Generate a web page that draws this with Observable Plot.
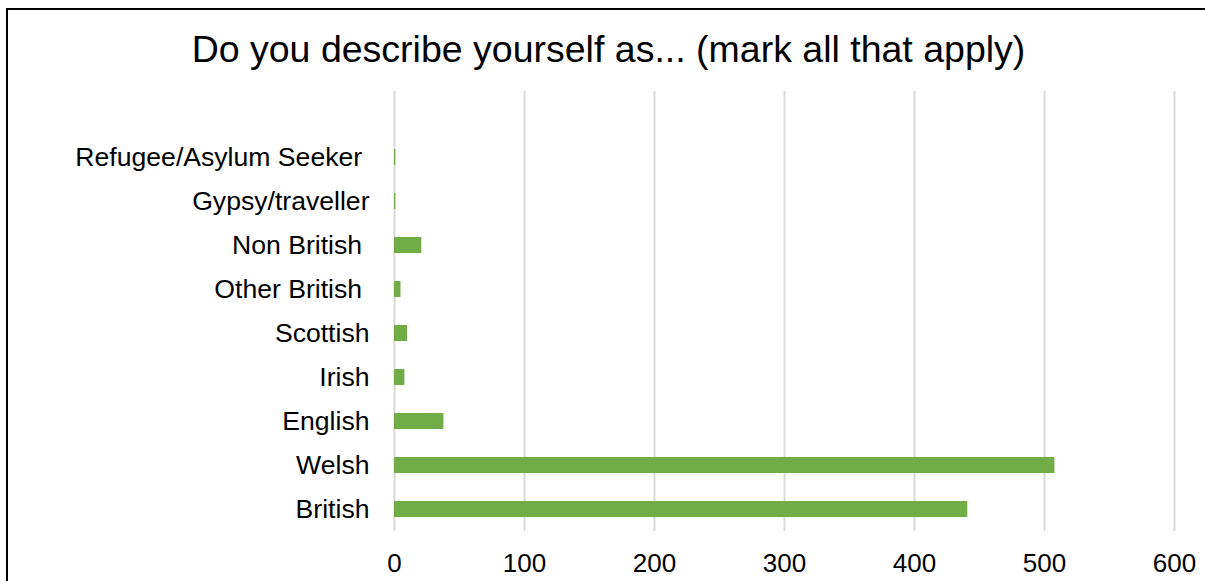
<!DOCTYPE html>
<html>
<head>
<meta charset="utf-8">
<script src="https://cdn.jsdelivr.net/npm/d3@7"></script>
<script src="https://cdn.jsdelivr.net/npm/@observablehq/plot@0.6"></script>
<style>
  html, body { margin: 0; padding: 0; background: #fff; overflow: hidden; }
  body { width: 1205px; height: 581px; position: relative; font-family: "Liberation Sans", Arial, sans-serif; }
  #frame { position: absolute; left: 6px; top: 8px; width: 1400px; height: 800px; border-left: 2px solid #000; border-top: 2px solid #000; box-sizing: border-box; pointer-events: none; }
  #title { position: relative; height: 80px; box-sizing: border-box; padding-top: 31px; line-height: 37px; font-size: 37.5px; text-align: center; color: #000; padding-left: 12px; }
  #chart { position: relative; }
</style>
</head>
<body>
<div id="frame"></div>
<div id="title">Do you describe yourself as... (mark all that apply)</div>
<div id="chart"></div>
<script>
const categories = ["Refugee/Asylum Seeker\u00a0", "Gypsy/traveller", "Non British\u00a0", "Other British\u00a0", "Scottish", "Irish", "English", "Welsh", "British"];
const values = [1, 1, 21, 5, 10, 8, 38, 508, 441];
const xTicks = [0, 100, 200, 300, 400, 500, 600];

const data = categories.map((c, i) => ({category: c, value: values[i]}));

const chart = Plot.plot({
  width: 1205,
  height: 501,
  marginLeft: 394,
  marginRight: 31,
  marginTop: 11,
  marginBottom: 50,
  style: {fontFamily: "'Liberation Sans', Arial, sans-serif", fontSize: "26px", color: "#000", background: "transparent"},
  x: {domain: [0, 600], label: null},
  y: {domain: ["\u2002", ...categories], paddingInner: 0.636, paddingOuter: 0.318, label: null},
  marks: [
    Plot.gridX(xTicks, {stroke: "#d9d9d9", strokeOpacity: 1, strokeWidth: 2}),
    Plot.barX(data, {x: "value", y: "category", fill: "#70ad47"}),
    Plot.axisX(xTicks, {tickSize: 0, tickPadding: 22, label: null, fill: "#000", fontSize: 26}),
    Plot.axisY({tickSize: 0, tickPadding: 25, label: null, fill: "#000", fontSize: 26.6})
  ]
});
document.getElementById("chart").appendChild(chart);
</script>
</body>
</html>
